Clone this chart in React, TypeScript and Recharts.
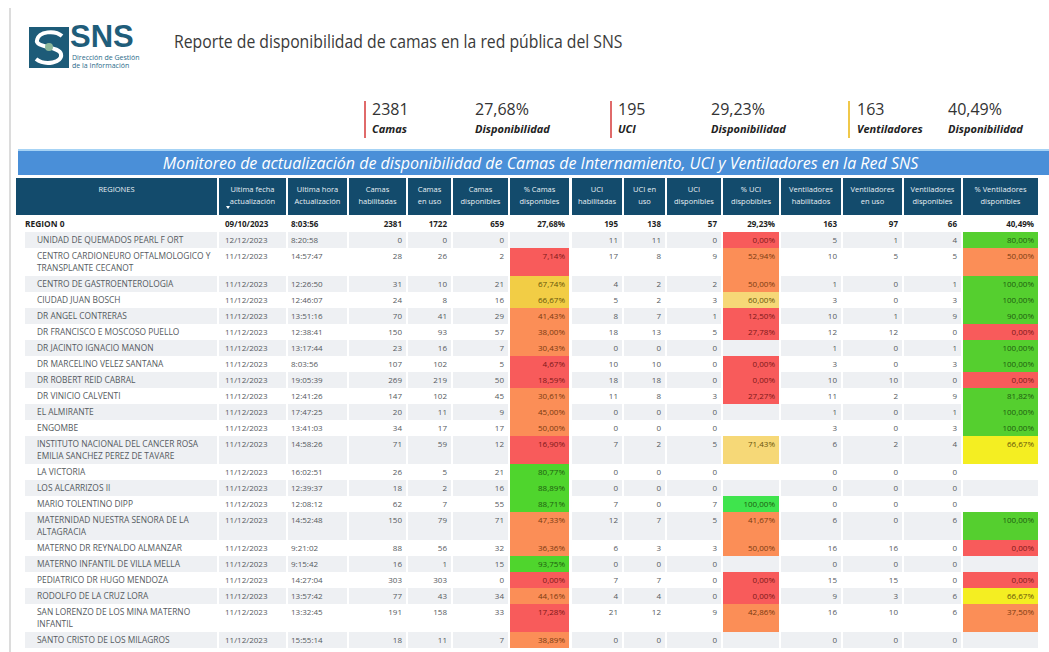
import React from 'react';
import { ScatterChart, Scatter, XAxis, YAxis } from 'recharts';

const regiones = [
  'REGION 0',
  'UNIDAD DE QUEMADOS PEARL F ORT',
  'CENTRO CARDIONEURO OFTALMOLOGICO Y\nTRANSPLANTE CECANOT',
  'CENTRO DE GASTROENTEROLOGIA',
  'CIUDAD JUAN BOSCH',
  'DR ANGEL CONTRERAS',
  'DR FRANCISCO E MOSCOSO PUELLO',
  'DR JACINTO IGNACIO MANON',
  'DR MARCELINO VELEZ SANTANA',
  'DR ROBERT REID CABRAL',
  'DR VINICIO CALVENTI',
  'EL ALMIRANTE',
  'ENGOMBE',
  'INSTITUTO NACIONAL DEL CANCER ROSA\nEMILIA SANCHEZ PEREZ DE TAVARE',
  'LA VICTORIA',
  'LOS ALCARRIZOS II',
  'MARIO TOLENTINO DIPP',
  'MATERNIDAD NUESTRA SENORA DE LA\nALTAGRACIA',
  'MATERNO DR REYNALDO ALMANZAR',
  'MATERNO INFANTIL DE VILLA MELLA',
  'PEDIATRICO DR HUGO MENDOZA',
  'RODOLFO DE LA CRUZ LORA',
  'SAN LORENZO DE LOS MINA MATERNO\nINFANTIL',
  'SANTO CRISTO DE LOS MILAGROS',
];
const fechas = [
  '09/10/2023', '12/12/2023', '11/12/2023', '11/12/2023', '11/12/2023', '11/12/2023', '11/12/2023', '11/12/2023',
  '11/12/2023', '11/12/2023', '11/12/2023', '11/12/2023', '11/12/2023', '11/12/2023', '11/12/2023', '11/12/2023',
  '11/12/2023', '11/12/2023', '11/12/2023', '11/12/2023', '11/12/2023', '11/12/2023', '11/12/2023', '11/12/2023',
];
const horas = [
  '8:03:56', '8:20:58', '14:57:47', '12:26:50', '12:46:07', '13:51:16', '12:38:41', '13:17:44',
  '8:03:56', '19:05:39', '12:41:26', '17:47:25', '13:41:03', '14:58:26', '16:02:51', '12:39:37',
  '12:08:12', '14:52:48', '9:21:02', '9:15:42', '14:27:04', '13:57:42', '13:32:45', '15:55:14',
];
const camasHabilitadas = [2381, 0, 28, 31, 24, 70, 150, 23, 107, 269, 147, 20, 34, 71, 26, 18, 62, 150, 88, 16, 303, 77, 191, 18];
const camasEnUso = [1722, 0, 26, 10, 8, 41, 93, 16, 102, 219, 102, 11, 17, 59, 5, 2, 7, 79, 56, 1, 303, 43, 158, 11];
const camasDisponibles = [659, 0, 2, 21, 16, 29, 57, 7, 5, 50, 45, 9, 17, 12, 21, 16, 55, 71, 32, 15, 0, 34, 33, 7];
const camasPct = [27.68, null, 7.14, 67.74, 66.67, 41.43, 38.0, 30.43, 4.67, 18.59, 30.61, 45.0, 50.0, 16.9, 80.77, 88.89, 88.71, 47.33, 36.36, 93.75, 0.0, 44.16, 17.28, 38.89];
const uciHabilitadas = [195, 11, 17, 4, 5, 8, 18, 0, 10, 18, 11, 0, 0, 7, 0, 0, 7, 12, 6, 0, 7, 4, 21, 0];
const uciEnUso = [138, 11, 8, 2, 2, 7, 13, 0, 10, 18, 8, 0, 0, 2, 0, 0, 0, 7, 3, 0, 7, 4, 12, 0];
const uciDisponibles = [57, 0, 9, 2, 3, 1, 5, 0, 0, 0, 3, 0, 0, 5, 0, 0, 7, 5, 3, 0, 0, 0, 9, 0];
const uciPct = [29.23, 0.0, 52.94, 50.0, 60.0, 12.5, 27.78, null, 0.0, 0.0, 27.27, null, null, 71.43, null, null, 100.0, 41.67, 50.0, null, 0.0, 0.0, 42.86, null];
const ventHabilitados = [163, 5, 10, 1, 3, 10, 12, 1, 3, 10, 11, 1, 3, 6, 0, 0, 0, 6, 16, 0, 15, 9, 16, 0];
const ventEnUso = [97, 1, 5, 0, 0, 1, 12, 0, 0, 10, 2, 0, 0, 2, 0, 0, 0, 0, 16, 0, 15, 3, 10, 0];
const ventDisponibles = [66, 4, 5, 1, 3, 9, 0, 1, 3, 0, 9, 1, 3, 4, 0, 0, 0, 6, 0, 0, 0, 6, 6, 0];
const ventPct = [40.49, 80.0, 50.0, 100.0, 100.0, 90.0, 0.0, 100.0, 100.0, 0.0, 81.82, 100.0, 100.0, 66.67, null, null, null, 100.0, 0.0, null, 0.0, 66.67, 37.5, null];

const encabezados = [
  ['REGIONES'], ['Ultima fecha', 'actualización'], ['Ultima hora', 'Actualización'], ['Camas', 'habilitadas'],
  ['Camas', 'en uso'], ['Camas', 'disponibles'], ['% Camas', 'disponibles'], ['UCI', 'habilitadas'], ['UCI en', 'uso'],
  ['UCI', 'disponibles'], ['% UCI', 'dispobibles'], ['Ventiladores', 'habilitados'], ['Ventiladores', 'en uso'],
  ['Ventiladores', 'disponibles'], ['% Ventiladores', 'disponibles'],
];

const kpiValores = ['2381', '27,68%', '195', '29,23%', '163', '40,49%'];
const kpiEtiquetas = ['Camas', 'Disponibilidad', 'UCI', 'Disponibilidad', 'Ventiladores', 'Disponibilidad'];

// ---- layout ----
const FONT = "'Segoe UI', 'Open Sans', 'Noto Sans', sans-serif";
const COLS = [
  [16, 217], [219, 286], [288, 347], [349, 406], [408, 451], [453, 508], [510, 569], [572, 622],
  [624, 665], [667, 721], [723, 779], [781, 841], [843, 902], [904, 961], [963, 1038],
];
const TOP = 178;
const BOTTOM = 652;
const HEAD_H = 38;

const pctColor = (col: number, v: number | null) => {
  if (v == null) return null;
  if (v < 30) return { bg: '#f85b5b', fg: '#7c1818' };
  if (v < 60) return { bg: '#fb8e57', fg: '#7a3a10' };
  if (v < 80) {
    const bg = col === 6 ? '#f2cd45' : col === 10 ? '#f6d877' : '#f4ee22';
    return { bg, fg: '#66540a' };
  }
  const bg = col === 6 ? '#4fd52d' : col === 10 ? '#3fe44d' : '#55cf2f';
  return { bg, fg: '#1d5b10' };
};
const fmtPct = (v: number | null) => (v == null ? '' : v.toFixed(2).replace('.', ',') + '%');

type Cell = {
  x: number; y: number; w: number; h: number; col: number; row: number;
  kind: 'head' | 'body'; lines: string[]; pct: number | null;
};

const cells: Cell[] = [];
encabezados.forEach((lines, j) => {
  cells.push({ x: COLS[j][0], y: TOP, w: COLS[j][1] - COLS[j][0], h: HEAD_H - 1, col: j, row: -1, kind: 'head', lines, pct: null });
});
let rowTop = TOP + HEAD_H;
regiones.forEach((name, i) => {
  const lines = name.split('\n');
  const h = lines.length > 1 ? 28 : 16;
  const vals = [
    name, fechas[i], horas[i], camasHabilitadas[i], camasEnUso[i], camasDisponibles[i], camasPct[i],
    uciHabilitadas[i], uciEnUso[i], uciDisponibles[i], uciPct[i], ventHabilitados[i], ventEnUso[i], ventDisponibles[i], ventPct[i],
  ];
  vals.forEach((v, j) => {
    const isPct = j === 6 || j === 10 || j === 14;
    cells.push({
      x: COLS[j][0], y: rowTop, w: COLS[j][1] - COLS[j][0], h, col: j, row: i, kind: 'body',
      lines: j === 0 ? lines : [isPct ? fmtPct(v as number | null) : String(v)],
      pct: isPct ? (v as number | null) : null,
    });
  });
  rowTop += h;
});

const renderCell = (props: any) => {
  const { cx, cy, payload } = props;
  const c = payload as Cell;
  if (c.kind === 'head') {
    return (
      <g>
        <rect x={cx} y={cy} width={c.w} height={c.h} fill="#134b6c" />
        {c.lines.map((t, k) => (
          <text key={k} x={cx + c.w / 2} y={cy + 14 + k * 12} textAnchor="middle" fill="#e8f0f5" fontSize={7.5} fontFamily={FONT}>
            {t}
          </text>
        ))}
        {c.col === 1 && <path d={`M${cx + 7} ${cy + 28} l4 0 l-2 3 z`} fill="#ffffff" />}
      </g>
    );
  }
  const total = c.row === 0;
  const stripe = !total && c.row % 2 === 1;
  const color = total ? null : pctColor(c.col, c.pct);
  const left = c.col === 0 ? cx + 9 : cx;
  const w = c.col === 0 ? c.w - 9 : c.w;
  let bg: React.ReactNode = null;
  if (color) bg = <rect x={cx} y={cy} width={c.w} height={c.h} fill={color.bg} />;
  else if (stripe) bg = <rect x={left} y={cy} width={w} height={c.h} fill="#eef0f3" />;
  const fg = total ? '#1e1e1e' : color ? color.fg : '#555a60';
  const anchor = c.col <= 2 ? 'start' : 'end';
  const tx = c.col === 0 ? cx + (total ? 9 : 21) : c.col === 1 ? cx + 6 : c.col === 2 ? cx + 3 : cx + c.w - 4;
  return (
    <g>
      {bg}
      {c.lines.map((t, k) => (
        <text key={k} x={tx} y={cy + 11 + k * 12} textAnchor={anchor} fill={fg} fontSize={c.col === 0 ? 8.4 : 8}
          fontWeight={total ? 700 : 400} fontFamily={FONT}>
          {t}
        </text>
      ))}
    </g>
  );
};

const abs = (s: React.CSSProperties): React.CSSProperties => ({ position: 'absolute', margin: 0, ...s });

const Kpi = ({ i, left }: { i: number; left: number }) => (
  <>
    <div style={abs({ left, top: 100, fontSize: 16, color: '#333', lineHeight: '18px' })}>{kpiValores[i]}</div>
    <div style={abs({ left, top: 122, fontSize: 11, fontWeight: 700, fontStyle: 'italic', color: '#222', lineHeight: '14px' })}>
      {kpiEtiquetas[i]}
    </div>
  </>
);

export default function App() {
  return (
    <div style={abs({ left: 0, top: 0, width: 1049, height: 652, overflow: 'hidden', background: '#fff', fontFamily: FONT })}>
      <div style={abs({ left: 9, top: 8, width: 2, height: 644, background: '#dcdcdc' })} />
      <svg style={abs({ left: 29, top: 27 })} width={40} height={41}>
        <rect x={0} y={0} width={40} height={41} fill="#1d5b78" />
        <path d="M33 9 C 26 3, 10 4, 8 13 C 6 21, 30 19, 32 27 C 34 36, 16 39, 7 32" stroke="#ffffff" strokeWidth={4} fill="none" />
        <circle cx={20} cy={20} r={4} fill="#8db89a" />
      </svg>
      <div style={abs({ left: 70, top: 22, fontSize: 31, fontWeight: 700, color: '#1f5d7a', fontFamily: "'Liberation Sans', Arial, sans-serif", lineHeight: '30px' })}>
        SNS
      </div>
      <div style={abs({ left: 72, top: 54, fontSize: 7, color: '#2b6b8a', lineHeight: '8px' })}>
        Dirección de Gestión<br />de la Información
      </div>
      <div style={abs({ left: 174, top: 29, fontSize: 19, color: '#3a3a3a', lineHeight: '24px', whiteSpace: 'nowrap', transform: 'scaleX(0.83)', transformOrigin: 'left top' })}>
        Reporte de disponibilidad de camas en la red pública del SNS
      </div>

      <div style={abs({ left: 364, top: 101, width: 2, height: 37, background: '#e06a6a' })} />
      <div style={abs({ left: 610, top: 101, width: 2, height: 37, background: '#e06a6a' })} />
      <div style={abs({ left: 848, top: 101, width: 2, height: 37, background: '#f0c84a' })} />
      <Kpi i={0} left={372} />
      <Kpi i={1} left={475} />
      <Kpi i={2} left={618} />
      <Kpi i={3} left={711} />
      <Kpi i={4} left={857} />
      <Kpi i={5} left={948} />

      <div style={abs({ left: 18, top: 149, width: 1031, height: 26, background: '#4a8fd8', borderTop: '2px solid #a6d3f5', color: '#ffffff', fontSize: 16, fontStyle: 'italic', lineHeight: '25px', textAlign: 'center', paddingLeft: 14, boxSizing: 'border-box' })}>
        Monitoreo de actualización de disponibilidad de Camas de Internamiento, UCI y Ventiladores en la Red SNS
      </div>

      <div style={abs({ left: 0, top: TOP })}>
        <ScatterChart width={1049} height={BOTTOM - TOP} margin={{ top: 0, right: 0, bottom: 0, left: 0 }}>
          <XAxis type="number" dataKey="x" domain={[0, 1049]} allowDataOverflow hide />
          <YAxis type="number" dataKey="y" domain={[TOP, BOTTOM]} allowDataOverflow reversed hide />
          <Scatter data={cells} shape={renderCell} isAnimationActive={false} />
        </ScatterChart>
      </div>
    </div>
  );
}
